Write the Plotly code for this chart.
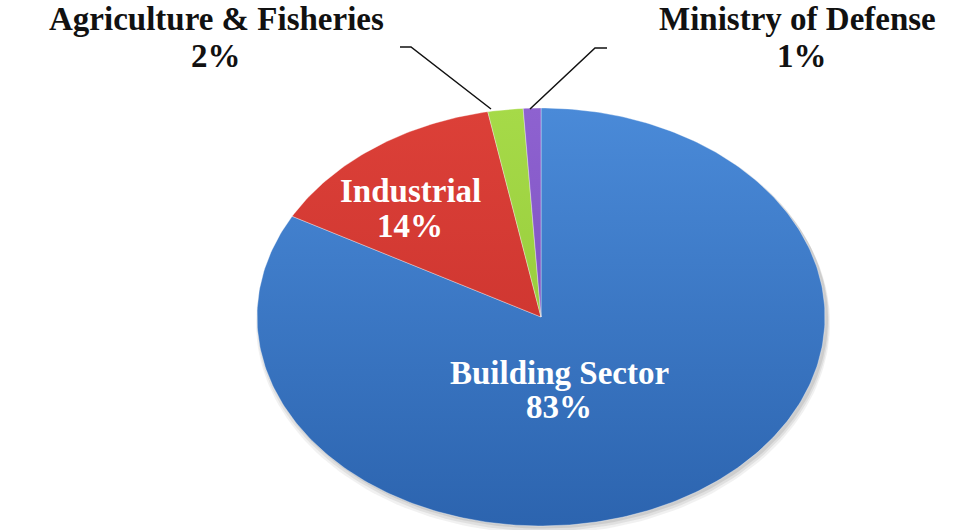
import numpy as np
import plotly.graph_objects as go

# ---- data ----
categories = ["Building Sector", "Industrial", "Agriculture & Fisheries", "Ministry of Defense"]
values = [83, 14, 2, 1]
pct_labels = ["83%", "14%", "2%", "1%"]
colors_top = ["#4A8AD8", "#DC4038", "#A6DA48", "#8E62D0"]
colors_bot = ["#2C64AF", "#C42E2A", "#8CC234", "#7246B8"]

# ---- geometry (pixel-like axes) ----
W, H = 971, 530
cx, cy = 541, 317
rx, ry = 284, 209

fig = go.Figure()

# soft shadow
for off, a in [(6, 0.10), (4, 0.14), (2, 0.18)]:
    t = np.linspace(0, 2 * np.pi, 200)
    fig.add_trace(go.Scatter(
        x=cx + 2 + (rx + off * 0.5) * np.sin(t), y=cy + off + (ry + off * 0.3) * np.cos(t),
        fill="toself", mode="lines", line=dict(width=0),
        fillcolor=f"rgba(120,120,120,{a})", hoverinfo="skip", showlegend=False))

total = sum(values)
start = 0.0
for name, v, ct, cb in zip(categories, values, colors_top, colors_bot):
    frac = v / total
    a0, a1 = start * 2 * np.pi, (start + frac) * 2 * np.pi
    n = max(int(frac * 400), 8)
    th = np.linspace(a0, a1, n)
    xs = np.concatenate([[cx], cx + rx * np.sin(th), [cx]])
    ys = np.concatenate([[cy], cy - ry * np.cos(th), [cy]])
    fig.add_trace(go.Scatter(
        x=xs, y=ys, fill="toself", mode="lines",
        line=dict(width=1, color="rgba(255,255,255,0.35)"),
        fillcolor=ct,
        fillgradient=dict(type="vertical", colorscale=[[0, cb], [1, ct]],
                          start=cy + ry, stop=cy - ry),
        name=name, hoverinfo="name", showlegend=False))
    start += frac

FAM = "Liberation Serif, Times New Roman, serif"
font_dark = dict(family=FAM, size=33, color="#111111", weight="bold")
font_white = dict(family=FAM, size=33, color="#FFFFFF", weight="bold")

annotations = [
    dict(x=216, y=19, text=categories[2], font=font_dark),
    dict(x=216, y=56, text=pct_labels[2], font=font_dark),
    dict(x=797, y=19, text=categories[3], font=font_dark),
    dict(x=802, y=56, text=pct_labels[3], font=font_dark),
    dict(x=410, y=191, text=categories[1], font=font_white),
    dict(x=410, y=226, text=pct_labels[1], font=font_white),
    dict(x=559, y=373, text=categories[0], font=font_white),
    dict(x=559, y=407, text=pct_labels[0], font=font_white),
]
for a in annotations:
    a.update(xref="x", yref="y", showarrow=False, xanchor="center", yanchor="middle")

shapes = [
    dict(type="path", path="M 400 47 L 411 47 L 491 109", xref="x", yref="y",
         line=dict(color="#111111", width=1.5)),
    dict(type="path", path="M 607 48 L 595 48 L 530 109", xref="x", yref="y",
         line=dict(color="#111111", width=1.5)),
]

fig.update_layout(
    width=W, height=H,
    margin=dict(l=0, r=0, t=0, b=0),
    paper_bgcolor="white", plot_bgcolor="white",
    xaxis=dict(range=[0, W], visible=False, fixedrange=True),
    yaxis=dict(range=[H, 0], visible=False, fixedrange=True),
    annotations=annotations, shapes=shapes,
)

fig.write_html("out.html", config={"displayModeBar": False},
               post_script="document.body.style.margin='0';document.body.style.overflow='hidden';")
